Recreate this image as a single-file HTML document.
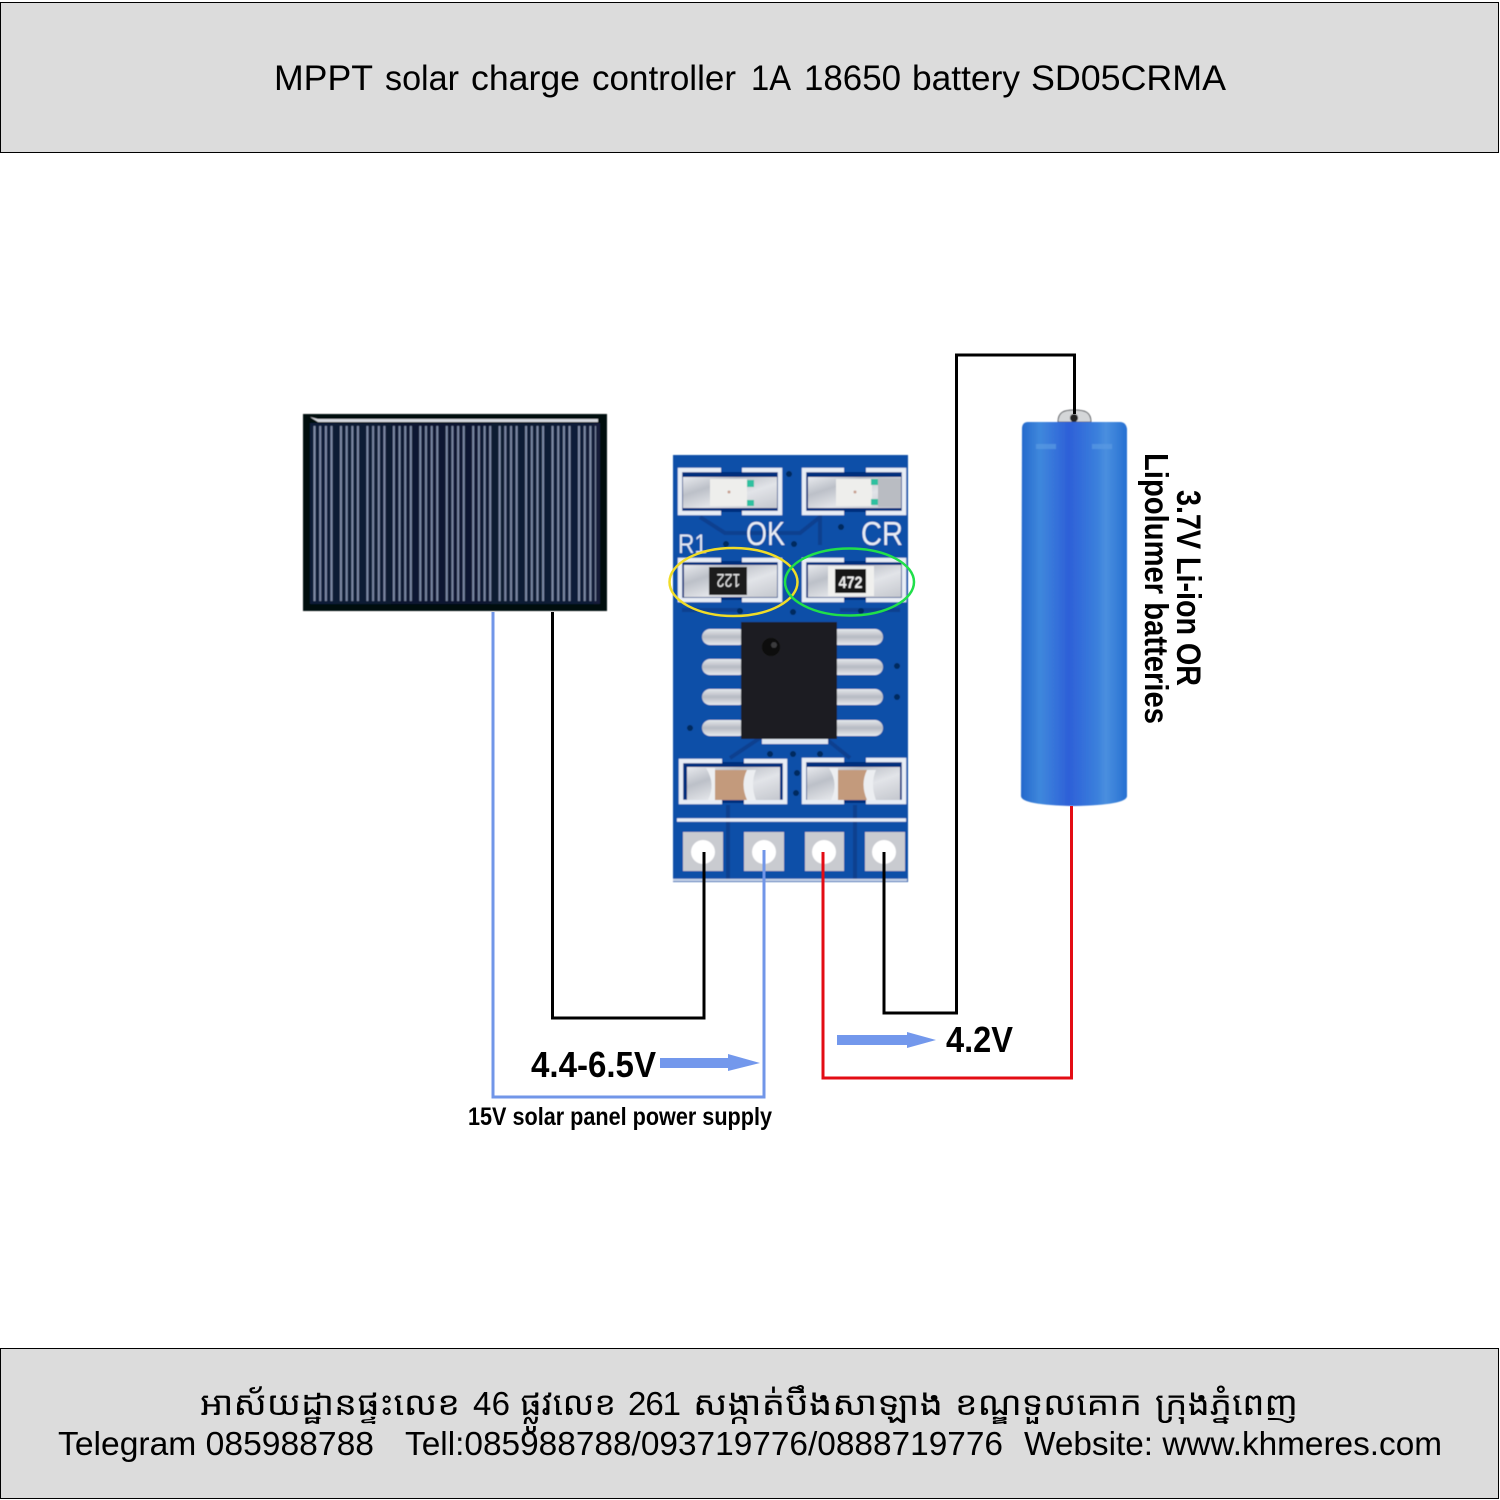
<!DOCTYPE html>
<html lang="en"><head><meta charset="utf-8"><title>MPPT solar charge controller</title>
<style>html,body{margin:0;padding:0;background:#fff}svg{display:block}text{font-family:"Liberation Sans","Noto Sans CJK SC",sans-serif}.km{font-family:"Liberation Sans","Noto Sans Khmer","Khmer OS","Noto Sans CJK SC",sans-serif}</style></head>
<body>
<svg xmlns="http://www.w3.org/2000/svg" width="1500" height="1500" viewBox="0 0 1500 1500">
<defs>
<pattern id="cells" x="313.5" y="0" width="26.45" height="10" patternUnits="userSpaceOnUse">
<rect x="0" width="2" height="10" fill="#7d8aa6"/><rect x="5.7" width="2" height="10" fill="#7d8aa6"/><rect x="11.4" width="2" height="10" fill="#7d8aa6"/><rect x="17" width="2" height="10" fill="#7d8aa6"/>
</pattern>
<linearGradient id="panel" x1="0" x2="1" y1="0" y2="0">
<stop offset="0" stop-color="#101c38"/><stop offset=".5" stop-color="#0d1830"/><stop offset="1" stop-color="#121f3a"/>
</linearGradient>
<linearGradient id="bat" x1="0" x2="1" y1="0" y2="0">
<stop offset="0" stop-color="#2468cc"/><stop offset=".18" stop-color="#3f88dc"/><stop offset=".45" stop-color="#2d60d8"/><stop offset=".72" stop-color="#3b80dc"/><stop offset=".8" stop-color="#4a8fdf"/><stop offset="1" stop-color="#2670d2"/>
</linearGradient>
<linearGradient id="pad" x1="0" x2="1" y1="0" y2="1">
<stop offset="0" stop-color="#e8eaee"/><stop offset=".3" stop-color="#bcc0c8"/><stop offset=".6" stop-color="#e2e4e8"/><stop offset="1" stop-color="#c4c7ce"/>
</linearGradient>
<linearGradient id="pin" x1="0" x2="0" y1="0" y2="1">
<stop offset="0" stop-color="#e6e8ec"/><stop offset=".5" stop-color="#b6bac2"/><stop offset="1" stop-color="#e8eaee"/>
</linearGradient>
<filter id="soft" x="-2%" y="-2%" width="104%" height="104%"><feGaussianBlur stdDeviation="0.55"/></filter>
</defs>
<rect width="1500" height="1500" fill="#fff"/>

<!-- header/footer -->
<rect x="0.5" y="2.5" width="1498" height="150" fill="#dcdcdc" stroke="#000"/>
<g font-size="35.500" fill="#000">
<text x="274" y="90" textLength="99" lengthAdjust="spacingAndGlyphs">MPPT</text>
<text x="385" y="90" textLength="74" lengthAdjust="spacingAndGlyphs">solar</text>
<text x="471" y="90" textLength="109" lengthAdjust="spacingAndGlyphs">charge</text>
<text x="592" y="90" textLength="144" lengthAdjust="spacingAndGlyphs">controller</text>
<text x="751" y="90" textLength="40" lengthAdjust="spacingAndGlyphs">1A</text>
<text x="804" y="90" textLength="97" lengthAdjust="spacingAndGlyphs">18650</text>
<text x="912" y="90" textLength="108" lengthAdjust="spacingAndGlyphs">battery</text>
<text x="1031" y="90" textLength="195" lengthAdjust="spacingAndGlyphs">SD05CRMA</text>
</g>
<rect x="0.5" y="1348.5" width="1498" height="150" fill="#dcdcdc" stroke="#000"/>
<g font-size="33" fill="#000">
<text class="km" x="200" y="1415" textLength="260" lengthAdjust="spacingAndGlyphs">អាស័យដ្ឋានផ្ទះលេខ</text>
<text x="473" y="1415" textLength="37">46</text>
<text class="km" x="520" y="1415" textLength="96" lengthAdjust="spacingAndGlyphs">ផ្លូវលេខ</text>
<text x="628" y="1415" textLength="53">261</text>
<text class="km" x="693" y="1415" textLength="250" lengthAdjust="spacingAndGlyphs">សង្កាត់បឹងសាឡាង</text>
<text class="km" x="955" y="1415" textLength="187" lengthAdjust="spacingAndGlyphs">ខណ្ឌទួលគោក</text>
<text class="km" x="1155" y="1415" textLength="143" lengthAdjust="spacingAndGlyphs">ក្រុងភ្នំពេញ</text>
<text x="58" y="1455" textLength="316" lengthAdjust="spacingAndGlyphs">Telegram 085988788</text>
<text x="405" y="1455" textLength="598" lengthAdjust="spacingAndGlyphs">Tell:085988788/093719776/0888719776</text>
<text x="1024" y="1455" textLength="418" lengthAdjust="spacingAndGlyphs">Website: www.khmeres.com</text>
</g>

<!-- solar panel -->
<g filter="url(#soft)">
<rect x="303" y="414" width="304" height="197" fill="#05080f"/>
<rect x="310" y="423" width="290" height="181" fill="url(#panel)"/>
<rect x="313" y="426" width="283" height="175" fill="url(#cells)"/>
<path d="M310 417 L318 419 H598 V422 H318 Z" fill="#d5d8de"/>
</g>

<!-- board -->
<g filter="url(#soft)">
<rect x="673" y="455" width="235" height="427" fill="#0d4fa8"/>
<rect x="681" y="472" width="99" height="40" fill="#062f7c"/>
<rect x="806" y="472" width="98" height="40" fill="#062f7c"/>
<rect x="681" y="561" width="99" height="39" fill="#062f7c"/>
<rect x="806" y="561" width="98" height="39" fill="#062f7c"/>
<rect x="683" y="762" width="101" height="41" fill="#062f7c"/>
<rect x="806" y="762" width="98" height="41" fill="#062f7c"/>
<g fill="none" stroke="#07408f" stroke-width="4">
<path d="M700 517 L725 533 H800 L820 517 V545"/>
<path d="M682 610 H740 M840 610 H900"/>
<path d="M730 758 L760 738 M850 758 L825 738"/>
<path d="M728 805 V880 M855 805 V880"/>
</g>
<g fill="none" stroke="#e8edf5" stroke-width="4.500">
<path d="M721 470 H680 V513 H721 M742 470 H780 V513 H742"/>
<path d="M844 470 H804 V513 H844 M866 470 H904 V513 H866"/>
<path d="M721 560 H680 V600 H721 M742 560 H780 V600 H742"/>
<path d="M844 560 H804 V600 H844 M866 560 H904 V600 H866"/>
<path d="M722 761 H681 V802 H722 M744 761 H785 V802 H744"/>
<path d="M844 760 H804 V802 H844 M866 760 H904 V802 H866"/>
<path d="M677 820 H906" stroke-width="3.500"/>
<path d="M673 880 H907" stroke-width="2.500" stroke="#c8d4e8"/>
</g>

<!-- LEDs -->
<rect x="683" y="477" width="94" height="31" fill="url(#pad)"/>
<rect x="710" y="479" width="37" height="27" fill="#eeeeec"/>
<circle cx="729" cy="492" r="1.500" fill="#c8a090"/>
<rect x="747" y="480" width="7" height="7" fill="#2fc0a0"/><rect x="747" y="500" width="7" height="6" fill="#2fc0a0"/>
<rect x="808" y="477" width="93" height="31" fill="url(#pad)"/>
<rect x="836" y="479" width="36" height="27" fill="#eeeeec"/>
<circle cx="855" cy="492" r="1.500" fill="#c8a090"/>
<rect x="871" y="479" width="7" height="6" fill="#2fc0a0"/><rect x="871" y="499" width="7" height="6" fill="#2fc0a0"/>
<rect x="878" y="478" width="23" height="29" fill="#b9bcc2"/>

<!-- silkscreen -->
<text x="678" y="553" font-size="27" fill="#dfe7f3" textLength="29" lengthAdjust="spacingAndGlyphs">R1</text>
<text x="746" y="545" font-size="33" fill="#e8edf5" textLength="39" lengthAdjust="spacingAndGlyphs">OK</text>
<text x="861" y="545" font-size="33" fill="#e8edf5" textLength="42" lengthAdjust="spacingAndGlyphs">CR</text>

<!-- vias -->
<g fill="#062a5e">
<circle cx="789" cy="474" r="3"/><circle cx="841" cy="527" r="3"/><circle cx="726" cy="544" r="3"/><circle cx="794" cy="544" r="3"/>
<circle cx="740" cy="611" r="3"/><circle cx="793" cy="612" r="3"/><circle cx="861" cy="611" r="3"/><circle cx="897" cy="666" r="3"/><circle cx="897" cy="697" r="3"/><circle cx="690" cy="728" r="3"/>
<circle cx="770" cy="754" r="3"/><circle cx="793" cy="754" r="3"/><circle cx="820" cy="754" r="3"/><circle cx="797" cy="773" r="3"/><circle cx="796" cy="793" r="3"/>
</g>

<!-- resistors -->
<rect x="684" y="565" width="93" height="32" fill="url(#pad)"/>
<rect x="709" y="567" width="38" height="28" fill="#1a1a1c"/>
<text transform="translate(728.500 581) rotate(180)" text-anchor="middle" y="7" font-size="18" fill="#e6e6e6" textLength="24" lengthAdjust="spacingAndGlyphs">122</text>
<rect x="808" y="565" width="93" height="32" fill="url(#pad)"/>
<rect x="828" y="566" width="46" height="30" fill="#f0f0ee"/>
<rect x="835" y="569" width="31" height="24" fill="#151517"/>
<text x="850.500" y="588" text-anchor="middle" font-size="17" font-weight="bold" fill="#f0f0f0" textLength="24" lengthAdjust="spacingAndGlyphs">472</text>

<!-- chip pins -->
<g fill="url(#pin)">
<rect x="702" y="629" width="45" height="16" rx="8"/><rect x="702" y="659" width="45" height="16" rx="8"/><rect x="702" y="689" width="45" height="16" rx="8"/><rect x="702" y="720" width="45" height="16" rx="8"/>
<rect x="830" y="629" width="53" height="16" rx="8"/><rect x="830" y="659" width="53" height="16" rx="8"/><rect x="830" y="689" width="53" height="16" rx="8"/><rect x="830" y="720" width="53" height="16" rx="8"/>
</g>
<rect x="741" y="622" width="96" height="117" fill="#1d1e20"/>
<circle cx="771" cy="647" r="9" fill="#0c0c0d"/>
<circle cx="774" cy="645" r="3" fill="#3a3a3c"/>
<rect x="762" y="739" width="66" height="5" fill="#dfe6f0"/>

<!-- capacitors -->
<rect x="687" y="767" width="93" height="33" fill="url(#pad)"/>
<rect x="715" y="770" width="32" height="30" fill="#c39a7c"/>
<path d="M706 768 Q716 784 708 800 H715 V768 Z M747 770 Q740 784 747 800 H756 Q750 784 756 770 Z" fill="#eceef1"/>
<rect x="807" y="767" width="93" height="33" fill="url(#pad)"/>
<rect x="838" y="770" width="29" height="30" fill="#c39a7c"/>
<path d="M829 768 Q839 784 831 800 H838 V768 Z M867 770 Q860 784 867 800 H876 Q870 784 876 770 Z" fill="#eceef1"/>

<!-- terminals -->
<g fill="#c9cbd0">
<rect x="683" y="832" width="40" height="39"/><rect x="744" y="832" width="40" height="39"/><rect x="805" y="832" width="39" height="39"/><rect x="865" y="832" width="40" height="39"/>
</g>
<g fill="#fff">
<circle cx="703" cy="852" r="12"/><circle cx="764" cy="852" r="12"/><circle cx="824" cy="852" r="12"/><circle cx="884" cy="852" r="12"/>
</g>
</g>
<ellipse cx="733.500" cy="582" rx="64" ry="34" fill="none" stroke="#f0dc28" stroke-width="2.500"/>
<ellipse cx="849.500" cy="582" rx="64.500" ry="33.500" fill="none" stroke="#20df4a" stroke-width="2.500"/>

<!-- battery -->
<g filter="url(#soft)">
<path d="M1058 422 C1058 412 1064 410 1074 410 C1085 410 1091 412 1091 422 Z" fill="#d4d6d8" stroke="#55585c"/>
<circle cx="1074" cy="418" r="4" fill="#222"/>
<path d="M1028 422 H1120 Q1126 422 1127 429 V796 Q1127 805 1074 806 Q1021 805 1021 796 L1022 429 Q1022 422 1028 422 Z" fill="url(#bat)"/>
<rect x="1036" y="444" width="20" height="5" fill="#5a9ae2" opacity=".7"/>
<rect x="1092" y="444" width="20" height="5" fill="#5a9ae2" opacity=".7"/>
</g>

<!-- wires -->
<g fill="none" stroke-width="3">
<path d="M704 852 V1018 H552.500 V612" stroke="#000"/>
<path d="M764 850 V1097 H493 V612" stroke="#7196e8"/>
<path d="M823 852 V1078 H1071.500 V806" stroke="#e30c14"/>
<path d="M884 852 V1013 H956.500 V355 H1074.500 V414" stroke="#000"/>
</g>

<!-- arrows -->
<path d="M660 1058 H728 V1054 L760 1063 L728 1071 V1068 H660 Z" fill="#7398ec"/>
<path d="M837 1035 H907 V1032 L936 1040 L907 1048 V1045 H837 Z" fill="#7398ec"/>

<!-- labels -->
<text x="531" y="1077" font-size="36" font-weight="bold" textLength="125" lengthAdjust="spacingAndGlyphs" fill="#000">4.4-6.5V</text>
<text x="946" y="1052" font-size="36" font-weight="bold" textLength="67" lengthAdjust="spacingAndGlyphs" fill="#000">4.2V</text>
<text x="468" y="1125" font-size="25" font-weight="bold" textLength="304" lengthAdjust="spacingAndGlyphs" fill="#000">15V solar panel power supply</text>
<text transform="translate(1177 490) rotate(90)" font-size="34" font-weight="bold" textLength="196" lengthAdjust="spacingAndGlyphs" fill="#000">3.7V Li-ion OR</text>
<text transform="translate(1145 453) rotate(90)" font-size="33" font-weight="bold" textLength="271" lengthAdjust="spacingAndGlyphs" fill="#000">Lipolumer batteries</text>
</svg>
</body></html>
